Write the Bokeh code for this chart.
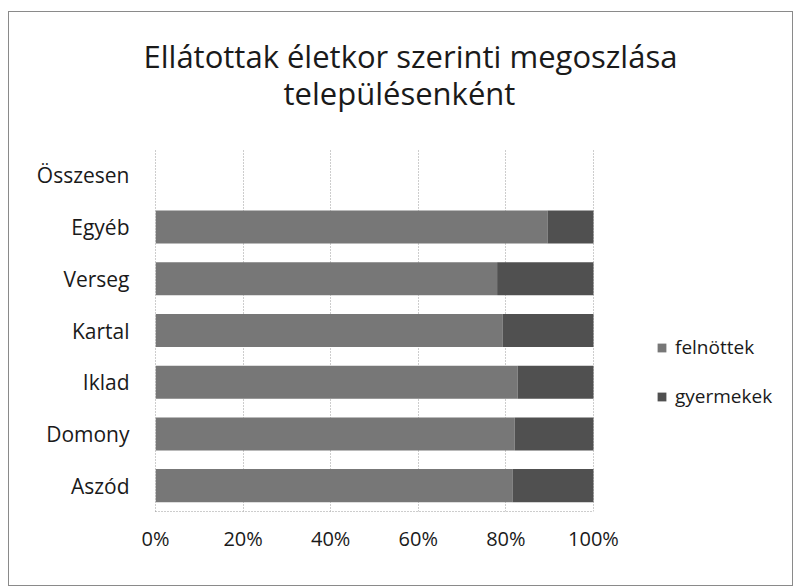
from bokeh.plotting import figure
from bokeh.models import (ColumnDataSource, FactorRange, Range1d, FixedTicker,
                          PrintfTickFormatter, Legend, LegendItem, Title)
from bokeh.embed import file_html
from bokeh.resources import INLINE

categories = ["Aszód", "Domony", "Iklad", "Kartal", "Verseg", "Egyéb", "Összesen"]
felnottek = [81.5, 82.0, 82.7, 79.3, 78.0, 89.5, 0]
gyermekek = [18.5, 18.0, 17.3, 20.7, 22.0, 10.5, 0]
x_ticks = [0, 20, 40, 60, 80, 100]
title_lines = ["Ellátottak életkor szerinti megoszlása", "településenként"]

src = ColumnDataSource(dict(cat=categories, felnottek=felnottek, gyermekek=gyermekek))

FONT = "Open Sans"
p = figure(width=785, height=575, output_backend="svg", toolbar_location=None,
           y_range=FactorRange(factors=categories, range_padding=0),
           x_range=Range1d(0, 145.9),
           min_border_left=146, min_border_right=0, min_border_top=137,
           min_border_bottom=76)
p.styles = {"border": "1px solid #8a8a8a", "margin-left": "8px", "margin-top": "11px"}
p.outline_line_color = None
p.title = None

# second line first: it sits nearest the plot area
p.add_layout(Title(text=title_lines[1], align="left", offset=128, standoff=71,
                   text_font=FONT, text_font_size="31px", text_font_style="normal",
                   text_color="#1a1a1a"), "above")
p.add_layout(Title(text=title_lines[0], align="left", offset=-12, standoff=-84,
                   text_font=FONT, text_font_size="31px", text_font_style="normal",
                   text_color="#1a1a1a"), "above")

rs = p.hbar_stack(["felnottek", "gyermekek"], y="cat", height=0.64,
                  color=["#777777", "#505050"], line_color=None, source=src)

legend = Legend(items=[LegendItem(label="felnöttek", renderers=[rs[0]]),
                       LegendItem(label="gyermekek", renderers=[rs[1]])],
                location=(501, 102), orientation="vertical",
                border_line_color=None, background_fill_alpha=0,
                glyph_width=11, glyph_height=11, label_height=20,
                label_text_font=FONT, label_text_font_size="19px",
                label_text_color="#1a1a1a",
                spacing=23, label_standoff=8, padding=0, margin=0)
p.add_layout(legend, "center")

p.xaxis.ticker = FixedTicker(ticks=x_ticks)
p.xaxis.formatter = PrintfTickFormatter(format="%d%%")
p.xaxis.bounds = (0, 100)
p.xgrid.ticker = FixedTicker(ticks=x_ticks)
p.xgrid.grid_line_color = "#9a9a9a"
p.xgrid.grid_line_dash = "1 2"
p.ygrid.grid_line_color = None

for ax in (p.xaxis, p.yaxis):
    ax.major_tick_line_color = None
    ax.minor_tick_line_color = None
    ax.axis_line_color = "#9a9a9a"
    ax.axis_line_dash = "1 2"
    ax.major_label_text_font = FONT
    ax.major_label_text_color = "#1a1a1a"

p.xaxis.major_label_text_font_size = "20px"
p.xaxis.major_label_standoff = 7
p.yaxis.major_label_text_font_size = "21px"
p.yaxis.major_label_standoff = 20

open("out.html", "w").write(file_html(p, INLINE))
